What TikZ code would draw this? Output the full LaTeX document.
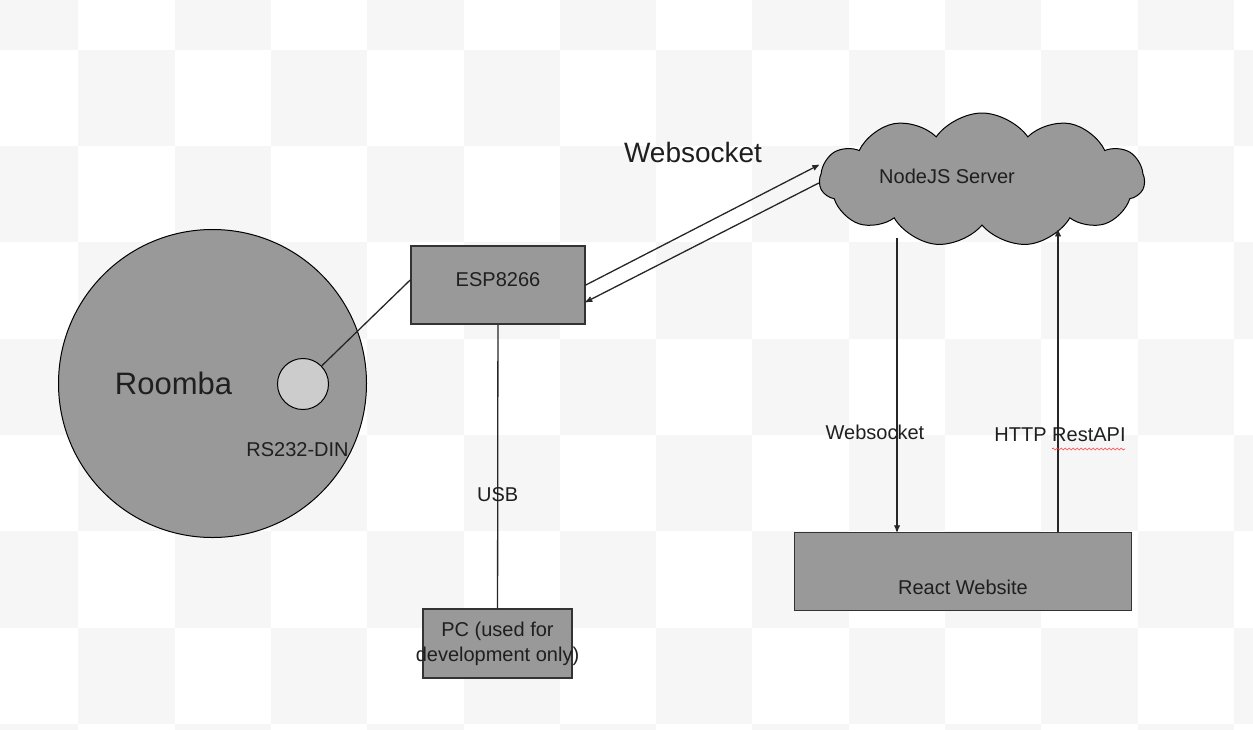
\documentclass[tikz,border=0pt]{standalone}
\usepackage{fontspec}
\setmainfont{Liberation Sans}
\usepackage{tikz}
\usetikzlibrary{arrows,calc,positioning,shapes.symbols,decorations.pathmorphing}

\definecolor{boxgray}{HTML}{999999}
\definecolor{pingray}{HTML}{CCCCCC}
\definecolor{checkgray}{HTML}{F6F6F6}

\begin{document}
\begin{tikzpicture}[x=1pt, y=-1pt, >=stealth',
  txt/.style={text=black!88, font=\fontsize{20}{25}\selectfont, inner sep=0pt},
  box/.style={draw=black!80, line width=1.6pt, fill=boxgray, inner sep=0pt},
  wire/.style={draw=black!85, line width=1.3pt}]
\useasboundingbox (0,0) rectangle (1253,729);

% background squares
\begin{scope}
\clip (0,0) rectangle (1253,729);
\foreach \i in {0,...,13} {
  \foreach \j in {0,...,8} {
    \pgfmathtruncatemacro\chk{mod(\i+\j,2)}
    \ifnum\chk=0
      \fill[checkgray] (-18+96.3*\i,-46.5+96.3*\j) rectangle ++(96.3,96.3);
    \fi
  }
}
\end{scope}

\node[draw=black, line width=1pt, fill=boxgray, circle, minimum size=308pt,
  label={[txt, font=\fontsize{31}{36}\selectfont, xshift=-39pt]center:Roomba}] (roomba) at (212.5,383.5) {};
\node[draw=black, line width=1pt, fill=pingray, circle, minimum size=51pt] (pin) at (303,384) {};
\node[txt] (din) at (297.5,450) {RS232-DIN};

\node[box, minimum width=174pt, minimum height=78pt,
  label={[txt, yshift=5pt]center:ESP8266}] (esp) at (498,285) {};
\node[box, minimum width=149pt, minimum height=69pt,
  label={[txt, align=center]center:PC (used for\\development only)}] (pc) at (497.5,643.5) {};

\node[cloud, cloud puffs=11, cloud puff arc=110, cloud ignores aspect, draw=black, line width=1pt,
  fill=boxgray, minimum width=325pt, minimum height=134pt, inner sep=0pt,
  label={[txt, xshift=-35pt, yshift=4pt]center:NodeJS Server}] (srv) at (982,180) {};
\node[box, minimum width=337pt, minimum height=78pt,
  label={[txt, yshift=-16pt]center:React Website}] (web) at (963,571.5) {};

\node[txt, font=\fontsize{28}{32}\selectfont] (wsbig) at (693,152) {Websocket};

\draw[wire] (pin) -- ([yshift=5pt]esp.west);
\draw[wire] (esp) -- (pc) node[txt, pos=0.6]{USB};

\draw[wire, ->] (esp.east) -- ([yshift=15pt]srv.west);
\draw[wire, ->] ([yshift=-3pt]srv.west) -- ([yshift=-17pt]esp.east);

\coordinate (wsdown) at (897,238);
\coordinate (apiup) at (1058,230);
\draw[wire, ->] (wsdown) -- (wsdown |- web.north) node[txt, pos=0.66, xshift=-22pt]{Websocket};
\draw[wire, ->] (apiup |- web.north) -- (apiup) node[txt, pos=0.32, xshift=2pt] (api){HTTP RestAPI};
\draw[red!75, line width=0.6pt, decorate, decoration={snake, amplitude=1pt, segment length=4pt}]
  (1052,449) -- (1125,449);

\end{tikzpicture}
\end{document}
